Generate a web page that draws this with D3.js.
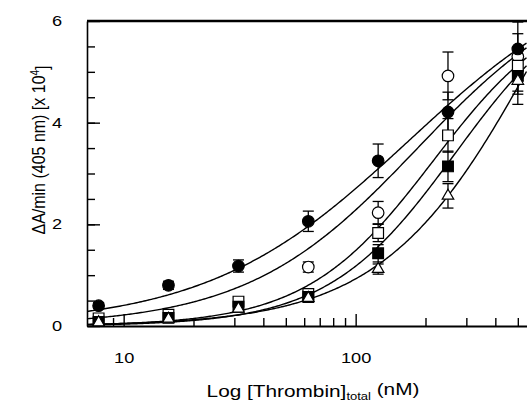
<!DOCTYPE html>
<html>
<head>
<meta charset="utf-8">
<script src="https://cdn.jsdelivr.net/npm/d3@7"></script>
<style>
body { margin: 0; background: #fff; }
svg { display: block; }
text { font-family: "Liberation Sans", Arial, Helvetica, sans-serif; fill: #000; }
</style>
</head>
<body>
<script>
var width = 527,
    height = 401;

// thrombin concentrations (nM)
var conc = [7.8, 15.6, 31.25, 62.5, 125, 250, 500];

// dA/min x 10^4
var filledCircle    = [0.40, 0.80, 1.18, 2.06, 3.25, 4.21, 5.45];
var filledCircleErr = [0.06, 0.08, 0.12, 0.20, 0.33, 0.39, 0.30];
var openCircle      = [null, null, null, 1.16, 2.23, 4.92, 5.30];
var openCircleErr   = [null, null, null, 0.10, 0.22, 0.47, 0.68];
var openSquare      = [0.15, 0.22, 0.48, 0.63, 1.83, 3.75, 5.12];
var openSquareErr   = [0.05, 0.05, 0.08, 0.06, 0.17, 0.33, 0.30];
var filledSquare    = [0.08, 0.16, 0.38, 0.57, 1.43, 3.14, 4.92];
var filledSquareErr = [0.05, 0.05, 0.06, 0.06, 0.17, 0.30, 0.36];
var openTriangle    = [0.07, 0.14, 0.34, 0.55, 1.12, 2.56, 4.82];
var openTriangleErr = [0.04, 0.05, 0.05, 0.05, 0.10, 0.24, 0.46];

// fitted curves, y = vmax * x^n / (k^n + x^n)
var fitVmax = [7.3, 7.0, 6.5, 6.8, 11.0];
var fitK    = [170, 185, 216, 269, 626];
var fitN    = [1.0, 1.18, 1.58, 1.58, 1.3];

var yTickLabels = [0, 2, 4, 6];
var xTickLabels = [10, 100];

var plotLeft = 87, plotTop = 21, plotBottom = 326;

var x = d3.scaleLog()
    .domain([6.95, 545])
    .range([plotLeft, plotLeft + 232 * Math.log10(545 / 6.95)]);

var y = d3.scaleLinear()
    .domain([0, 6])
    .range([plotBottom, plotTop]);

var svg = d3.select("body").append("svg")
    .attr("width", width)
    .attr("height", height);

svg.append("clipPath").attr("id", "plot")
  .append("rect")
    .attr("x", plotLeft).attr("y", plotTop - 2)
    .attr("width", width - plotLeft).attr("height", plotBottom - plotTop + 2);

// --- axes ---
var yMinor = svg.append("g")
    .attr("transform", "translate(" + plotLeft + ",0)")
    .call(d3.axisLeft(y).tickValues(d3.range(0.5, 6, 0.5)).tickSize(-8).tickSizeOuter(0).tickFormat(""));
yMinor.select(".domain").remove();

var yMajor = svg.append("g")
    .attr("transform", "translate(" + plotLeft + ",0)")
    .call(d3.axisLeft(y).tickValues(yTickLabels).tickSize(-13).tickSizeOuter(0).tickPadding(25)
        .tickFormat(d3.format("d")));
yMajor.select(".domain").attr("stroke-width", 1.6);
yMajor.selectAll(".tick text")
    .style("font-size", "14px")
    .attr("transform", "scale(1.3,1)")
    .attr("x", -25 / 1.3);

var xMinorVals = [8, 9, 20, 30, 40, 50, 60, 70, 80, 90, 200, 300, 400, 500];
var xMinor = svg.append("g")
    .attr("transform", "translate(0," + plotBottom + ")")
    .call(d3.axisBottom(x).tickValues(xMinorVals).tickSize(-8).tickSizeOuter(0).tickFormat(""));
xMinor.select(".domain").remove();

var xMajor = svg.append("g")
    .attr("transform", "translate(0," + plotBottom + ")")
    .call(d3.axisBottom(x).tickValues(xTickLabels).tickSize(-12).tickSizeOuter(0).tickPadding(27)
        .tickFormat(d3.format("d")));
xMajor.select(".domain").attr("stroke-width", 2);
xMajor.selectAll(".tick text")
    .style("font-size", "14px")
    .attr("transform", "scale(1.3,1)");

svg.selectAll(".tick line").attr("stroke-width", 1.4);
svg.selectAll(".domain").attr("stroke", "#000");

// top frame
svg.append("line")
    .attr("x1", plotLeft).attr("x2", width)
    .attr("y1", y(6)).attr("y2", y(6))
    .attr("stroke", "#000").attr("stroke-width", 2.4);

// --- fitted curves ---
var xs = d3.range(0, 301).map(function (i) { return 6.95 * Math.pow(545 / 6.95, i / 300); });
var line = d3.line()
    .x(function (d) { return x(d[0]); })
    .y(function (d) { return y(d[1]); });

var curves = svg.append("g").attr("clip-path", "url(#plot)");
fitVmax.forEach(function (v, i) {
    var pts = xs.map(function (c) {
        var r = Math.pow(c, fitN[i]);
        return [c, v * r / (Math.pow(fitK[i], fitN[i]) + r)];
    });
    curves.append("path")
        .attr("d", line(pts))
        .attr("fill", "none")
        .attr("stroke", "#000")
        .attr("stroke-width", 1.4);
});

// --- points + error bars ---
var series = [
    { vals: openCircle,   err: openCircleErr,   sym: d3.symbolCircle,   size: 105, fill: "#fff" },
    { vals: openSquare,   err: openSquareErr,   sym: d3.symbolSquare,   size: 115, fill: "#fff" },
    { vals: filledSquare, err: filledSquareErr, sym: d3.symbolSquare,   size: 115, fill: "#000" },
    { vals: openTriangle, err: openTriangleErr, sym: d3.symbolTriangle, size: 58,  fill: "#fff" },
    { vals: filledCircle, err: filledCircleErr, sym: d3.symbolCircle,   size: 105, fill: "#000" }
];

var marks = svg.append("g").attr("clip-path", "url(#plot)");

series.forEach(function (s) {
    var pts = conc.map(function (c, i) { return { c: c, v: s.vals[i], e: s.err[i] }; })
        .filter(function (d) { return d.v != null; });

    var eb = marks.append("g").selectAll("g").data(pts).enter().append("g")
        .attr("stroke", "#000").attr("stroke-width", 1.3);
    eb.append("line")
        .attr("x1", function (d) { return x(d.c); }).attr("x2", function (d) { return x(d.c); })
        .attr("y1", function (d) { return y(d.v - d.e); }).attr("y2", function (d) { return y(d.v + d.e); });
    [-1, 1].forEach(function (sgn) {
        eb.append("line")
            .attr("x1", function (d) { return x(d.c) - 5.5; }).attr("x2", function (d) { return x(d.c) + 5.5; })
            .attr("y1", function (d) { return y(d.v + sgn * d.e); }).attr("y2", function (d) { return y(d.v + sgn * d.e); });
    });
});

series.forEach(function (s) {
    var pts = conc.map(function (c, i) { return { c: c, v: s.vals[i] }; })
        .filter(function (d) { return d.v != null; });
    marks.append("g").selectAll("path").data(pts).enter().append("path")
        .attr("d", d3.symbol().type(s.sym).size(s.size))
        .attr("transform", function (d) { return "translate(" + x(d.c) + "," + y(d.v) + ")"; })
        .attr("fill", s.fill)
        .attr("stroke", "#000")
        .attr("stroke-width", 1.2);
});

// --- axis titles ---
var xt = svg.append("text")
    .attr("transform", "translate(313,397) scale(1.3,1)")
    .attr("text-anchor", "middle")
    .style("font-size", "16px");
xt.append("tspan").text("Log [Thrombin]");
xt.append("tspan").attr("dy", "0.3em").style("font-size", "10px").text("total");
xt.append("tspan").attr("dy", "-0.3em").text(" (nM)");

var yt = svg.append("text")
    .attr("transform", "translate(38,150) scale(1.2,1) rotate(-90)")
    .attr("text-anchor", "middle")
    .attr("dy", "0.35em")
    .style("font-size", "16px");
yt.append("tspan").text("\u0394A/min (405 nm) [x 10");
yt.append("tspan").attr("dy", "-0.45em").style("font-size", "10px").text("4");
yt.append("tspan").attr("dy", "0.45em").text("]");
</script>
</body>
</html>
